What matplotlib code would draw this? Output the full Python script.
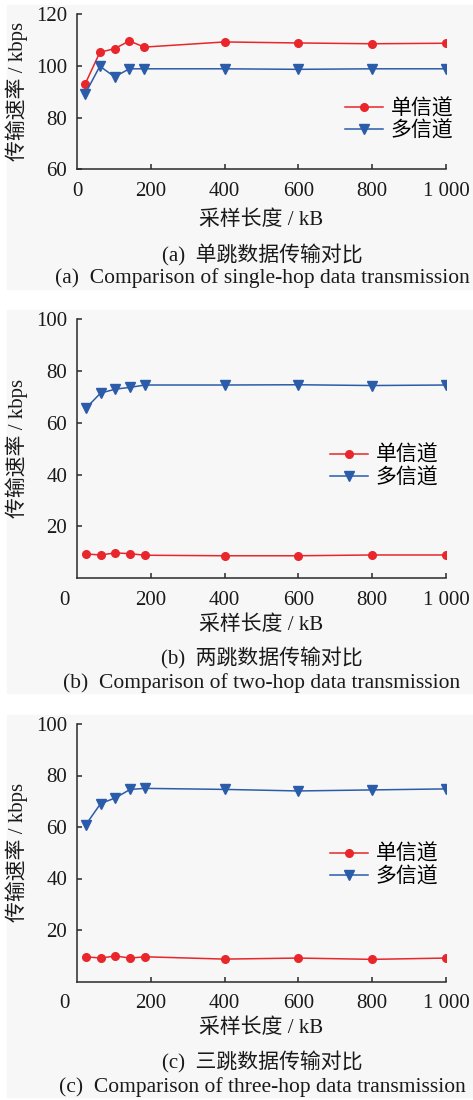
import numpy as np
import matplotlib
matplotlib.use('Agg')
import matplotlib.pyplot as plt
from matplotlib.patches import Rectangle
from matplotlib.transforms import ScaledTranslation

plt.rcParams['font.family'] = ['Liberation Serif', 'Noto Sans CJK SC']
plt.rcParams['font.size'] = 15

# sampling length (kB)
x_single = [22, 62, 102, 142, 182, 400, 600, 800, 1000]
x_multi_hop = [24, 64, 104, 144, 184, 400, 600, 800, 1000]

# transmission rate (kbps)
a_single = [93.0, 105.3, 106.7, 109.7, 107.3, 109.3, 108.9, 108.6, 108.8]
a_multi = [89.2, 99.9, 95.8, 98.9, 98.9, 98.9, 98.7, 98.9, 98.9]
b_single = [9.3, 8.9, 9.7, 9.4, 8.8, 8.6, 8.6, 8.9, 8.9]
b_multi = [65.6, 71.5, 73.0, 73.7, 74.6, 74.6, 74.7, 74.4, 74.6]
c_single = [9.6, 9.1, 9.9, 9.1, 9.6, 8.7, 9.1, 8.6, 9.1]
c_multi = [60.9, 69.1, 71.3, 74.6, 75.0, 74.6, 74.0, 74.4, 74.8]

xticks = [0, 200, 400, 600, 800, 1000]
xticklabels = ['0', '200', '400', '600', '800', '1 000']
series_names = ['单信道', '多信道']
cap_cn = ['(a)  单跳数据传输对比', '(b)  两跳数据传输对比', '(c)  三跳数据传输对比']
cap_en = ['(a)  Comparison of single-hop data transmission',
          '(b)  Comparison of two-hop data transmission',
          '(c)  Comparison of three-hop data transmission']

W, H = 473, 1100
fig = plt.figure(figsize=(W / 100, H / 100), dpi=100)

RED = '#e8262b'
BLUE = '#2b5caa'
DARK = '#2a2a2a'

def px(x0, y_top, x1, y_bot):
    return [x0 / W, 1 - y_bot / H, (x1 - x0) / W, (y_bot - y_top) / H]

# light grey panel backgrounds
for (t, b) in [(5, 289), (310, 693), (715, 1097)]:
    fig.patches.append(Rectangle((7 / W, 1 - b / H), (W - 7) / W, (b - t) / H,
                                 transform=fig.transFigure, color='#f7f7f7', zorder=-10))

panels = [
    dict(x=x_single, s=a_single, m=a_multi, ylim=(60, 120), yt=[60, 80, 100, 120],
         box=(77, 14.3, 446, 169.3), leg_y=120.5, xl_y=220, cn_y=255, en_y=278, shift0=False),
    dict(x=x_multi_hop, s=b_single, m=b_multi, ylim=(0, 100), yt=[20, 40, 60, 80, 100],
         box=(77, 319.3, 446, 578), leg_y=467, xl_y=625, cn_y=658, en_y=683, shift0=True),
    dict(x=x_multi_hop, s=c_single, m=c_multi, ylim=(0, 100), yt=[20, 40, 60, 80, 100],
         box=(77, 724, 446, 981.5), leg_y=866, xl_y=1028, cn_y=1062, en_y=1087, shift0=True),
]

for i, p in enumerate(panels):
    x0, yt_, x1, yb = p['box']
    ax = fig.add_axes(px(x0, yt_, x1, yb))
    ax.set_facecolor('none')
    ax.plot(p['x'], p['s'], color=RED, lw=1.1, marker='o', ms=5.5, label=series_names[0])
    ax.plot(p['x'], p['m'], color=BLUE, lw=1.1, marker='v', ms=6.5, label=series_names[1])
    ax.set_xlim(0, 1000)
    ax.set_ylim(*p['ylim'])
    ax.set_xticks(xticks)
    ax.set_xticklabels(xticklabels)
    ax.set_yticks(p['yt'])
    for s in ['top', 'right']:
        ax.spines[s].set_visible(False)
    for s in ['left', 'bottom']:
        ax.spines[s].set_color(DARK)
        ax.spines[s].set_linewidth(1.1)
    ax.tick_params(direction='in', length=3.5, width=1.1, color=DARK, labelsize=15,
                   labelcolor='#1a1a1a')
    ax.tick_params(axis='x', pad=9)
    ax.tick_params(axis='y', pad=7)
    ax.get_xticklines()[0].set_visible(False)
    if p['shift0']:
        lab = ax.get_xticklabels()[0]
        lab.set_transform(lab.get_transform() + ScaledTranslation(-0.13, 0, fig.dpi_scale_trans))

    ax.set_ylabel('传输速率 / kbps', fontsize=15, color='#1a1a1a', va='center')
    ax.yaxis.set_label_coords((17 - x0) / (x1 - x0), 0.5)
    ax.set_xlabel('采样长度 / kB', fontsize=15, color='#1a1a1a', va='center')
    ax.xaxis.set_label_coords(0.5, -(p['xl_y'] - yb) / (yb - yt_))

    ax.legend(loc='center left', bbox_to_anchor=((345 if i == 0 else 330) / W, 1 - p['leg_y'] / H),
              bbox_transform=fig.transFigure, frameon=False, borderpad=0, borderaxespad=0,
              handlelength=1.8, handletextpad=0.4, labelspacing=0.1, fontsize=15)

    fig.text(262 / W, 1 - p['cn_y'] / H, cap_cn[i], ha='center', va='center', fontsize=15,
             color='#1a1a1a')
    fig.text(262 / W, 1 - p['en_y'] / H, cap_en[i], ha='center', va='center', fontsize=15.5,
             color='#1a1a1a')

fig.savefig('out.png', dpi=100, facecolor='white')
